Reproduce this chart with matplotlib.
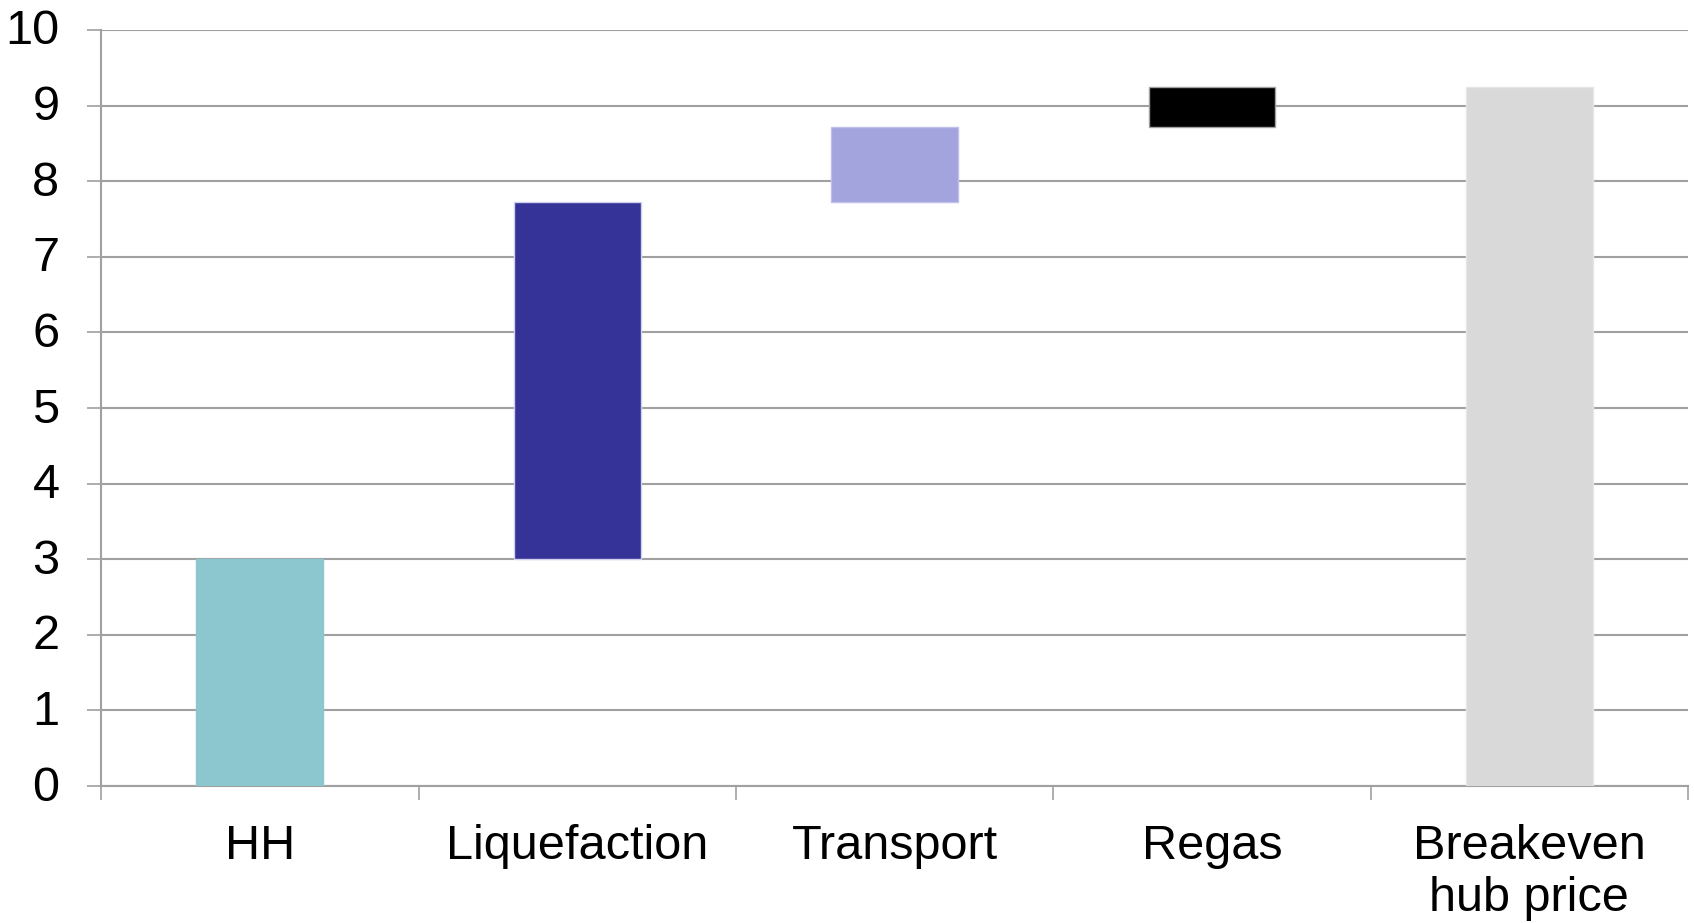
import numpy as np
import matplotlib
matplotlib.use("Agg")
import matplotlib.pyplot as plt
import matplotlib.transforms as mtransforms

plt.rcParams['font.family'] = ['Liberation Sans', 'DejaVu Sans']

# waterfall steps: HH, liquefaction, transport, regas, then the total
categories = ["HH", "Liquefaction", "Transport", "Regas", "Breakeven\nhub price"]
steps = [3.0, 4.72, 1.0, 0.52]
total = 9.24
colors = ["#8CC6CE", "#353397", "#A3A3DE", "#000000", "#D9D9D9"]
edges = ["#8CC6CE", "#D0D0F0", "#C0C0EA", "#A0A0A0", "#E6E6E6"]

heights = steps + [total]
bottoms = list(np.concatenate([[0], np.cumsum(steps)[:-1]])) + [0]

fig = plt.figure(figsize=(16.94, 9.23), dpi=100)
ax = fig.add_axes([0.0597, 0.1484, 0.9368, 0.8191])

x = np.arange(len(categories))
ax.bar(x, heights, bottom=bottoms, width=0.4, color=colors,
       edgecolor=edges, linewidth=1, zorder=3)

ax.set_xlim(-0.5, len(categories) - 0.5)
ax.set_ylim(0, 10)
ax.set_yticks(range(0, 11))
ax.grid(axis="y", color="#A0A0A0", linewidth=1.5, zorder=0)

# tick marks at category boundaries, labels at centres
ax.set_xticks(x)
ax.set_xticklabels(categories, fontsize=35, linespacing=1.2)
ax.set_xticks(np.arange(-0.5, len(categories)), minor=True)
ax.tick_params(axis="x", which="major", length=0, pad=27)
ax.tick_params(axis="x", which="minor", length=10, width=1.2, color="#A0A0A0", direction="out")
ax.tick_params(axis="y", length=10, width=1.2, color="#A0A0A0", labelsize=35, pad=20)

# nudge y labels up a little
shift = mtransforms.ScaledTranslation(0, 3 / 100, fig.dpi_scale_trans)
for lbl in ax.get_yticklabels():
    lbl.set_transform(lbl.get_transform() + shift)

for s in ["top", "right"]:
    ax.spines[s].set_visible(False)
for s in ["left", "bottom"]:
    ax.spines[s].set_color("#A0A0A0")
    ax.spines[s].set_linewidth(1.5)

fig.savefig("out.png", dpi=100)
